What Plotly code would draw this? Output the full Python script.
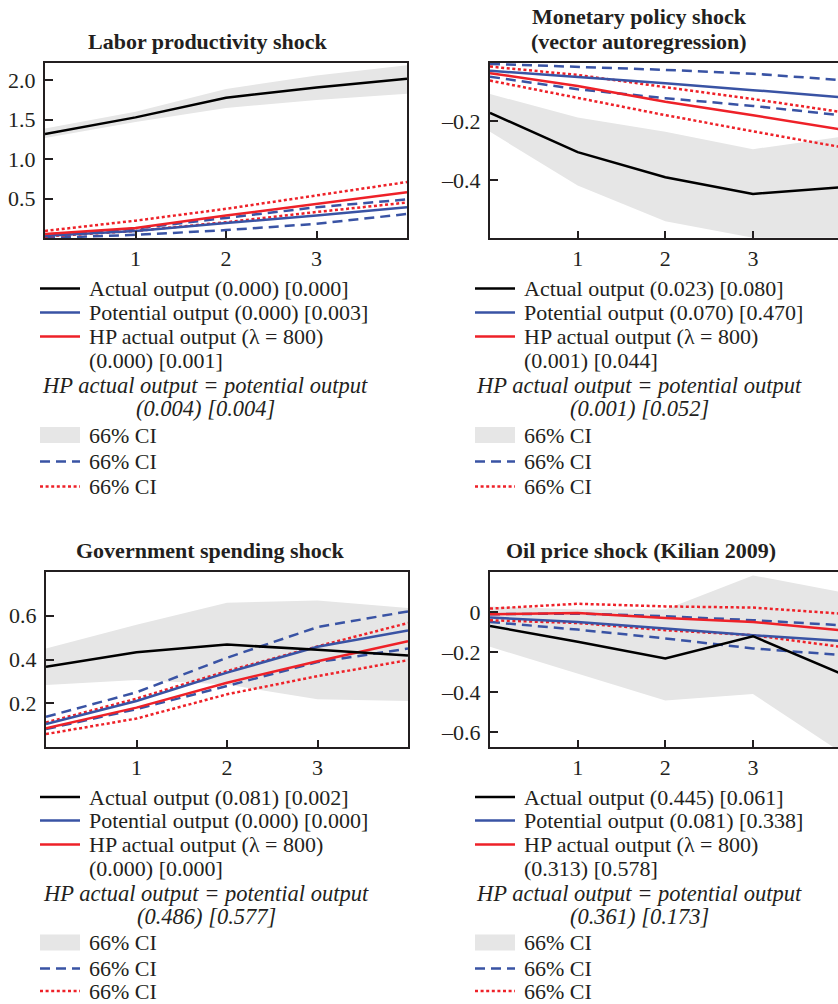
import plotly.graph_objects as go

# ---------------- data ----------------
horizon = [0, 1, 2, 3, 4]
x_tick_vals = [1, 2, 3]
x_tick_text = ["1", "2", "3"]

# Panel 1: Labor productivity shock
lp_actual = [1.32, 1.53, 1.78, 1.91, 2.02]
lp_actual_lo = [1.27, 1.47, 1.65, 1.75, 1.83]
lp_actual_hi = [1.39, 1.60, 1.89, 2.06, 2.19]
lp_potential = [0.03, 0.09, 0.19, 0.285, 0.39]
lp_potential_lo = [0.00, 0.04, 0.10, 0.18, 0.305]
lp_potential_hi = [0.02, 0.12, 0.255, 0.39, 0.49]
lp_hp = [0.052, 0.128, 0.285, 0.43, 0.58]
lp_hp_lo = [0.02, 0.09, 0.20, 0.33, 0.45]
lp_hp_hi = [0.09, 0.22, 0.37, 0.54, 0.71]

# Panel 2: Monetary policy shock (VAR)
mp_actual = [-0.173, -0.305, -0.389, -0.445, -0.423]
mp_actual_lo = [-0.237, -0.417, -0.537, -0.592, -0.592]
mp_actual_hi = [-0.11, -0.189, -0.237, -0.295, -0.254]
mp_potential = [-0.032, -0.052, -0.074, -0.097, -0.121]
mp_potential_lo = [-0.052, -0.094, -0.124, -0.15, -0.181]
mp_potential_hi = [-0.009, -0.018, -0.029, -0.042, -0.063]
mp_hp = [-0.04, -0.083, -0.136, -0.181, -0.229]
mp_hp_lo = [-0.065, -0.124, -0.181, -0.235, -0.288]
mp_hp_hi = [-0.018, -0.046, -0.087, -0.127, -0.17]

# Panel 3: Government spending shock
gs_actual = [0.367, 0.433, 0.468, 0.445, 0.418]
gs_actual_lo = [0.283, 0.306, 0.286, 0.218, 0.21]
gs_actual_hi = [0.45, 0.559, 0.66, 0.67, 0.635]
gs_potential = [0.105, 0.21, 0.34, 0.458, 0.533]
gs_potential_lo = [0.082, 0.173, 0.279, 0.388, 0.45]
gs_potential_hi = [0.138, 0.25, 0.408, 0.548, 0.62]
gs_hp = [0.086, 0.18, 0.294, 0.392, 0.483]
gs_hp_lo = [0.059, 0.13, 0.241, 0.324, 0.397]
gs_hp_hi = [0.112, 0.221, 0.347, 0.46, 0.567]

# Panel 4: Oil price shock (Kilian 2009)
op_actual = [-0.07, -0.149, -0.232, -0.121, -0.307]
op_actual_lo = [-0.174, -0.307, -0.443, -0.41, -0.70]
op_actual_hi = [0.028, 0.012, 0.012, 0.183, 0.10]
op_potential = [-0.028, -0.05, -0.083, -0.116, -0.144]
op_potential_lo = [-0.05, -0.088, -0.132, -0.182, -0.215]
op_potential_hi = [-0.011, -0.008, -0.021, -0.041, -0.066]
op_hp = [-0.011, -0.005, -0.03, -0.05, -0.091]
op_hp_lo = [-0.041, -0.055, -0.091, -0.116, -0.174]
op_hp_hi = [0.017, 0.041, 0.028, 0.022, -0.008]

titles = ["<b>Labor productivity shock</b>",
          "<b>Monetary policy shock</b><br><b>(vector autoregression)</b>",
          "<b>Government spending shock</b>",
          "<b>Oil price shock (Kilian 2009)</b>"]

y_tick_vals = [[0.5, 1.0, 1.5, 2.0], [-0.4, -0.2], [0.2, 0.4, 0.6], [-0.6, -0.4, -0.2, 0]]
y_tick_text = [["0.5", "1.0", "1.5", "2.0"], ["–0.4", "–0.2"], ["0.2", "0.4", "0.6"],
               ["–0.6", "–0.4", "–0.2", "0"]]
y_ranges = [[0.0, 2.22], [-0.593, -0.006], [0.0, 0.8], [-0.675, 0.2]]
x_ranges = [[0, 4], [0, 3.97], [0, 4], [0, 3.97]]

legend_actual = ["Actual output (0.000) [0.000]", "Actual output (0.023) [0.080]",
                 "Actual output (0.081) [0.002]", "Actual output (0.445) [0.061]"]
legend_potential = ["Potential output (0.000) [0.003]", "Potential output (0.070) [0.470]",
                    "Potential output (0.000) [0.000]", "Potential output (0.081) [0.338]"]
legend_hp_line1 = "HP actual output (λ = 800)"
legend_hp_line2 = ["(0.000) [0.001]", "(0.001) [0.044]", "(0.000) [0.000]", "(0.313) [0.578]"]
legend_eq_line1 = "HP actual output = potential output"
legend_eq_line2 = ["(0.004) [0.004]", "(0.001) [0.052]", "(0.486) [0.577]", "(0.361) [0.173]"]
legend_ci = "66% CI"

panels = [
    (lp_actual, lp_actual_lo, lp_actual_hi, lp_potential, lp_potential_lo, lp_potential_hi, lp_hp, lp_hp_lo, lp_hp_hi),
    (mp_actual, mp_actual_lo, mp_actual_hi, mp_potential, mp_potential_lo, mp_potential_hi, mp_hp, mp_hp_lo, mp_hp_hi),
    (gs_actual, gs_actual_lo, gs_actual_hi, gs_potential, gs_potential_lo, gs_potential_hi, gs_hp, gs_hp_lo, gs_hp_hi),
    (op_actual, op_actual_lo, op_actual_hi, op_potential, op_potential_lo, op_potential_hi, op_hp, op_hp_lo, op_hp_hi),
]

# ---------------- style / layout ----------------
W, H = 838, 1004
FONT = "Liberation Serif"
TXT = "#231f20"
BLACK = "#000000"
BLUE = "#3953a4"
RED = "#ee2128"
GRAY = "#e6e6e6"
DASH = "10px,6px"
DOT = "3px,2.6px"


def px_x(p):
    return p / W


def px_y(p):
    return 1 - p / H


# plot boxes in pixels: (left, right, top, bottom)
boxes = [(45, 407, 63, 238), (490, 838, 63, 238), (46, 408, 572, 747), (490, 838, 572, 747)]
title_pos = [(208, [42]), (639, [17, 42]), (210, [550]), (641, [550])]
legend_left = [(40, 80, 88, 205), (475, 515, 523, 639), (40, 80, 88, 206), (475, 515, 523, 639)]
legend_rows_top = [288.5, 312.5, 336.5, 360.5, 385, 408.5, 435, 461.5, 486.5]
legend_rows_bottom = [797, 820.5, 844.5, 868.5, 893, 916.5, 942.5, 968.5, 991]

fig = go.Figure()
layout = dict(width=W, height=H, margin=dict(l=0, r=0, t=0, b=0),
              paper_bgcolor="white", plot_bgcolor="white", showlegend=False,
              font=dict(family=FONT, size=22, color=TXT))
shapes = []
annotations = []

for i, data in enumerate(panels):
    act, act_lo, act_hi, pot, pot_lo, pot_hi, hp, hp_lo, hp_hi = data
    n = "" if i == 0 else str(i + 1)
    xa, ya = "x" + n, "y" + n
    # gray band
    fig.add_trace(go.Scatter(x=horizon, y=act_lo, mode="lines", line=dict(width=0, color=GRAY),
                             xaxis=xa, yaxis=ya, hoverinfo="skip"))
    fig.add_trace(go.Scatter(x=horizon, y=act_hi, mode="lines", line=dict(width=0, color=GRAY),
                             fill="tonexty", fillcolor=GRAY, xaxis=xa, yaxis=ya, hoverinfo="skip"))
    # CIs
    for s in (pot_lo, pot_hi):
        fig.add_trace(go.Scatter(x=horizon, y=s, mode="lines", line=dict(width=2.5, color=BLUE, dash=DASH),
                                 xaxis=xa, yaxis=ya))
    for s in (hp_lo, hp_hi):
        fig.add_trace(go.Scatter(x=horizon, y=s, mode="lines", line=dict(width=2.5, color=RED, dash=DOT),
                                 xaxis=xa, yaxis=ya))
    # point estimates
    fig.add_trace(go.Scatter(x=horizon, y=pot, mode="lines", line=dict(width=2.5, color=BLUE), xaxis=xa, yaxis=ya))
    fig.add_trace(go.Scatter(x=horizon, y=hp, mode="lines", line=dict(width=2.5, color=RED), xaxis=xa, yaxis=ya))
    fig.add_trace(go.Scatter(x=horizon, y=act, mode="lines", line=dict(width=2.5, color=BLACK), xaxis=xa, yaxis=ya))

    l, r, t, b = boxes[i]
    right_cut = i in (1, 3)
    layout["xaxis" + n] = dict(domain=[px_x(l), px_x(r)], range=x_ranges[i], anchor=ya,
                               tickvals=x_tick_vals, ticktext=x_tick_text, ticks="inside", ticklen=7,
                               tickwidth=2, tickcolor=TXT, showline=True, linecolor=TXT, linewidth=2,
                               mirror=True, showgrid=False, zeroline=False,
                               tickfont=dict(family=FONT, size=22, color=TXT))
    layout["yaxis" + n] = dict(domain=[px_y(b), px_y(t)], range=y_ranges[i], anchor=xa,
                               tickvals=y_tick_vals[i], ticktext=y_tick_text[i], ticks="inside", ticklen=8,
                               tickwidth=2, tickcolor=TXT, showline=True, linecolor=TXT, linewidth=2,
                               mirror=False if right_cut else True, showgrid=False,
                               zeroline=(i == 3), zerolinecolor=TXT, zerolinewidth=1.5,
                               ticklabelstandoff=3,
                               tickfont=dict(family=FONT, size=22, color=TXT))

    # title
    tx, tys = title_pos[i]
    lines = titles[i].split("<br>")
    for ln, ty in zip(lines, tys):
        annotations.append(dict(x=px_x(tx), y=px_y(ty), xref="paper", yref="paper", text=ln,
                                showarrow=False, xanchor="center", yanchor="middle",
                                font=dict(family=FONT, size=22, color=TXT)))

    # legend block
    sx0, sx1, tx0, cx = legend_left[i]
    rows = legend_rows_top if i < 2 else legend_rows_bottom
    for col, dash, row in ((BLACK, None, rows[0]), (BLUE, None, rows[1]), (RED, None, rows[2]),
                           (BLUE, DASH, rows[7]), (RED, DOT, rows[8])):
        ln = dict(color=col, width=2.5)
        if dash:
            ln["dash"] = dash
        shapes.append(dict(type="line", xref="paper", yref="paper", x0=px_x(sx0), x1=px_x(sx1),
                           y0=px_y(row), y1=px_y(row), line=ln))
    shapes.append(dict(type="rect", xref="paper", yref="paper", x0=px_x(sx0), x1=px_x(sx1),
                       y0=px_y(rows[6] - 8), y1=px_y(rows[6] + 8), fillcolor=GRAY, line=dict(width=0)))
    left_texts = [(legend_actual[i], rows[0]), (legend_potential[i], rows[1]), (legend_hp_line1, rows[2]),
                  (legend_hp_line2[i], rows[3]), (legend_ci, rows[6]), (legend_ci, rows[7]),
                  (legend_ci, rows[8])]
    for txt, row in left_texts:
        annotations.append(dict(x=px_x(tx0), y=px_y(row), xref="paper", yref="paper", text=txt,
                                showarrow=False, xanchor="left", yanchor="middle", borderpad=0,
                                font=dict(family=FONT, size=22, color=TXT)))
    for txt, row in ((legend_eq_line1, rows[4]), (legend_eq_line2[i], rows[5])):
        annotations.append(dict(x=px_x(cx), y=px_y(row), xref="paper", yref="paper", text="<i>" + txt + "</i>",
                                showarrow=False, xanchor="center", yanchor="middle", borderpad=0,
                                font=dict(family=FONT, size=22.5, color=TXT)))

layout["shapes"] = shapes
layout["annotations"] = annotations
fig.update_layout(**layout)
fig.write_html("out.html")
